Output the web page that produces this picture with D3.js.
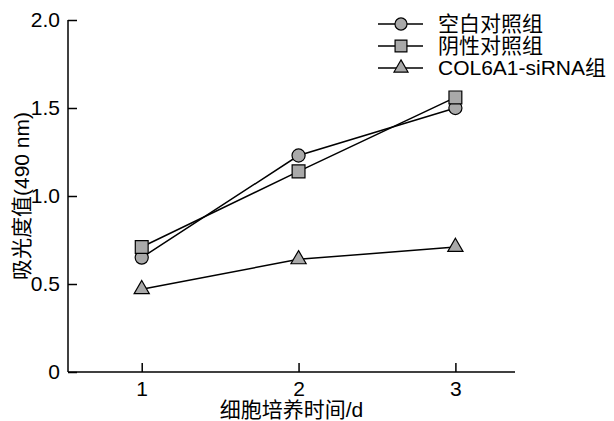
<!DOCTYPE html>
<html>
<head>
<meta charset="utf-8">
<script src="https://cdn.jsdelivr.net/npm/d3@7"></script>
<style>
  body { margin: 0; background: #fff; }
  svg text { font-family: "Liberation Sans", Arial, "Noto Sans CJK SC", sans-serif; fill: #000; }
</style>
</head>
<body>
<div id="chart"></div>
<script>
// data
const days = [1, 2, 3];
const seriesNames = ["空白对照组", "阴性对照组", "COL6A1-siRNA组"];
const blankCtrl = [0.65, 1.23, 1.50];
const negCtrl = [0.71, 1.14, 1.56];
const siRNA = [0.47, 0.64, 0.71];
const yTicks = [0, 0.5, 1.0, 1.5, 2.0];
const yTickLabels = ["0", "0.5", "1.0", "1.5", "2.0"];
const xLabel = "细胞培养时间/d";
const yLabel = "吸光度值(490 nm)";

const width = 614, height = 421;
const margin = { left: 68, right: 99, top: 20, bottom: 49 };
const fontSize = "21px";

const svg = d3.select("#chart").append("svg")
    .attr("width", width)
    .attr("height", height);

const x = d3.scaleLinear().domain([0.53, 3.38]).range([margin.left, width - margin.right]);
const y = d3.scaleLinear().domain([0, 2]).range([height - margin.bottom, margin.top]);

// axes, ticks pointing inward
const xAxis = svg.append("g")
    .attr("transform", `translate(0,${y(0)})`)
    .call(d3.axisBottom(x).tickValues(days).tickFormat(d3.format("d")).tickSize(-9).tickSizeOuter(0).tickPadding(9));
const yAxis = svg.append("g")
    .attr("transform", `translate(${x.range()[0]},0)`)
    .call(d3.axisLeft(y).tickValues(yTicks).tickFormat((d, i) => yTickLabels[i]).tickSize(-9).tickSizeOuter(0).tickPadding(8));

[xAxis, yAxis].forEach(g => {
    g.select(".domain").attr("stroke", "#000").attr("stroke-width", 1.5);
    g.selectAll(".tick line").attr("stroke", "#000").attr("stroke-width", 1.5);
    g.selectAll(".tick text").style("font-size", fontSize);
});
yAxis.select(".domain").attr("d", `M0,${y(2)}V${y(0)}`);
xAxis.select(".domain").attr("d", `M${x.range()[0]},0H${x.range()[1]}`);

svg.append("text")
    .attr("x", (x.range()[0] + x.range()[1]) / 2)
    .attr("y", 417)
    .attr("text-anchor", "middle")
    .style("font-size", fontSize)
    .text(xLabel);

svg.append("text")
    .attr("transform", `translate(29,${(y(0) + y(2)) / 2}) rotate(-90)`)
    .attr("text-anchor", "middle")
    .style("font-size", fontSize)
    .text(yLabel);

const fillGray = "#a9a9a9";
const symbols = [d3.symbolCircle, d3.symbolSquare, d3.symbolTriangle];
const symSizes = [135, 165, 100];
const allSeries = [blankCtrl, negCtrl, siRNA];

const line = d3.line().x((d, i) => x(days[i])).y(d => y(d));

allSeries.forEach((vals, k) => {
    svg.append("path")
        .datum(vals)
        .attr("fill", "none")
        .attr("stroke", "#000")
        .attr("stroke-width", 1.5)
        .attr("d", line);
});

allSeries.forEach((vals, k) => {
    svg.selectAll(".pt" + k)
        .data(vals)
        .join("path")
        .attr("class", "pt" + k)
        .attr("transform", (d, i) => `translate(${x(days[i])},${y(d)})`)
        .attr("d", d3.symbol().type(symbols[k]).size(symSizes[k]))
        .attr("fill", fillGray)
        .attr("stroke", "#000")
        .attr("stroke-width", 1.2);
});

// legend
const legend = svg.append("g");
const legY = [24, 46, 68];
seriesNames.forEach((name, k) => {
    const g = legend.append("g").attr("transform", `translate(378,${legY[k]})`);
    g.append("line").attr("x1", 0).attr("x2", 45).attr("y1", 0).attr("y2", 0)
        .attr("stroke", "#000").attr("stroke-width", 1.5);
    g.append("path")
        .attr("transform", "translate(23,0)")
        .attr("d", d3.symbol().type(symbols[k]).size(symSizes[k] * 0.85))
        .attr("fill", fillGray)
        .attr("stroke", "#000")
        .attr("stroke-width", 1.2);
    g.append("text")
        .attr("x", 60)
        .attr("y", 0)
        .attr("dy", "0.35em")
        .style("font-size", fontSize)
        .text(name);
});
</script>
</body>
</html>
